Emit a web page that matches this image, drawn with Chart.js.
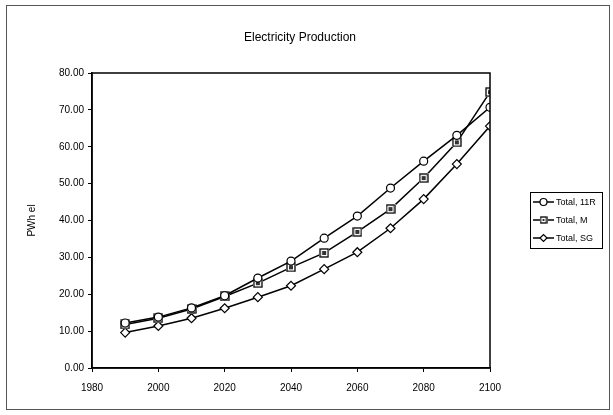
<!DOCTYPE html>
<html>
<head>
<meta charset="utf-8">
<script src="https://cdn.jsdelivr.net/npm/chart.js@4.4.0/dist/chart.umd.min.js"></script>
<style>
  html, body { margin: 0; padding: 0; background: #fff; }
  #wrap { width: 613px; height: 415px; position: relative; }
</style>
</head>
<body>
<div id="wrap"><canvas id="grafica"></canvas></div>
<script>
// datos
var anios = [1990, 2000, 2010, 2020, 2030, 2040, 2050, 2060, 2070, 2080, 2090, 2100];
var total11R = [12.2, 13.8, 16.3, 19.6, 24.4, 29.0, 35.2, 41.2, 48.8, 56.1, 63.1, 70.7];
var totalM   = [11.8, 13.5, 16.0, 19.4, 23.0, 27.3, 31.2, 36.9, 43.1, 51.5, 61.2, 74.8];
var totalSG  = [9.6, 11.4, 13.5, 16.2, 19.2, 22.3, 26.8, 31.4, 37.9, 45.8, 55.3, 65.6];
var etiquetas = ['Total, 11R', 'Total, M', 'Total, SG'];
var titulo = 'Electricity Production';
var tituloEje = 'PWh el';

var fuente = '"Liberation Sans", Arial, sans-serif';

// marcador cuadrado con relleno oscuro
function marcadorCuadrado(lado) {
    var c = document.createElement('canvas');
    c.width = lado; c.height = lado;
    var g = c.getContext('2d');
    g.fillStyle = '#fff';
    g.fillRect(0, 0, lado, lado);
    g.strokeStyle = '#000';
    g.lineWidth = 1.3;
    g.strokeRect(1, 1, lado - 2, lado - 2);
    g.fillStyle = '#333';
    var m = Math.round(lado / 3);
    g.fillRect(m, m, lado - 2 * m, lado - 2 * m);
    return c;
}
var cuadro = marcadorCuadrado(10);
var cuadroLeyenda = marcadorCuadrado(8);

function puntos(valores) {
    return anios.map((a, i) => ({ x: a, y: valores[i] }));
}

var estilos = [
    { pointStyle: 'circle', radius: 4 },
    { pointStyle: cuadro, radius: 4 },
    { pointStyle: 'rectRot', radius: 4.5 }
];
var estilosLeyenda = [
    { pointStyle: 'circle', radius: 3.5 },
    { pointStyle: cuadroLeyenda, radius: 3.5 },
    { pointStyle: 'rectRot', radius: 3.5 }
];
var series = [total11R, totalM, totalSG];

var marcoPlugin = {
    id: 'marco',
    beforeDraw: function(chart) {
        var ctx = chart.ctx;
        ctx.save();
        ctx.strokeStyle = '#555';
        ctx.lineWidth = 1;
        ctx.strokeRect(6.5, 5.5, 603, 404);
        // titulo
        ctx.fillStyle = '#000';
        ctx.font = '12px ' + fuente;
        ctx.textAlign = 'center';
        ctx.textBaseline = 'middle';
        ctx.fillText(titulo, 300, 38);
        ctx.restore();
    },
    afterDatasetsDraw: function(chart) {
        var a = chart.chartArea;
        var ctx = chart.ctx;
        ctx.save();
        ctx.strokeStyle = '#000';
        ctx.lineWidth = 1.5;
        ctx.strokeRect(a.left, a.top, a.right - a.left, a.bottom - a.top);
        ctx.restore();
    },
    afterDraw: function(chart) {
        // leyenda con linea y marcador
        var ctx = chart.ctx;
        ctx.save();
        ctx.strokeStyle = '#000';
        ctx.lineWidth = 1;
        ctx.strokeRect(530.5, 192.5, 72, 56);
        var filas = [202, 220, 238];
        chart.data.datasets.forEach(function(ds, i) {
            var y = filas[i];
            ctx.strokeStyle = '#000';
            ctx.lineWidth = 1.5;
            ctx.beginPath();
            ctx.moveTo(533, y);
            ctx.lineTo(554, y);
            ctx.stroke();
            ctx.fillStyle = '#fff';
            ctx.lineWidth = 1.2;
            Chart.helpers.drawPoint(ctx, {
                pointStyle: estilosLeyenda[i].pointStyle, radius: estilosLeyenda[i].radius,
                rotation: 0, borderWidth: 1.2
            }, 543.5, y);
            ctx.fillStyle = '#000';
            ctx.font = '9px ' + fuente;
            ctx.textBaseline = 'middle';
            ctx.textAlign = 'left';
            ctx.fillText(ds.label, 556, y + 0.5);
        });
        ctx.restore();
    }
};

var ctx = document.getElementById('grafica').getContext('2d');

var grafica = new Chart(ctx, {
    type: 'line',
    data: {
        datasets: series.map(function(valores, i) {
            return {
                label: etiquetas[i],
                data: puntos(valores),
                borderColor: '#000',
                borderWidth: 1.5,
                backgroundColor: '#fff',
                pointStyle: estilos[i].pointStyle,
                pointRadius: estilos[i].radius,
                pointBorderWidth: 1.2,
                pointBorderColor: '#000',
                pointBackgroundColor: '#fff',
                tension: 0
            };
        })
    },
    options: {
        responsive: true,
        maintainAspectRatio: false,
        animation: false,
        layout: {
            padding: { left: 6, top: 73, right: 123, bottom: 0 }
        },
        plugins: {
            legend: { display: false },
            tooltip: { enabled: false },
            title: { display: false }
        },
        scales: {
            x: {
                type: 'linear',
                min: 1980,
                max: 2100,
                afterFit: function(scale) { scale.height = 47; },
                ticks: {
                    stepSize: 20,
                    color: '#000',
                    padding: 10,
                    maxRotation: 0,
                    font: { family: fuente, size: 10 },
                    callback: function(v) { return String(v); }
                },
                grid: {
                    drawOnChartArea: false,
                    drawTicks: true,
                    tickLength: 4,
                    color: '#000'
                },
                border: { color: '#000', width: 1.5 }
            },
            y: {
                min: 0,
                max: 80,
                afterFit: function(scale) { scale.width = 86; },
                ticks: {
                    stepSize: 10,
                    color: '#000',
                    padding: 4,
                    font: { family: fuente, size: 10 },
                    callback: function(v) { return v.toFixed(2); }
                },
                grid: {
                    drawOnChartArea: false,
                    drawTicks: true,
                    tickLength: 4,
                    color: '#000'
                },
                border: { color: '#000', width: 1.5 },
                title: {
                    display: true,
                    text: tituloEje,
                    color: '#000',
                    padding: 20,
                    font: { family: fuente, size: 10 }
                }
            }
        }
    },
    plugins: [marcoPlugin]
});
</script>
</body>
</html>
